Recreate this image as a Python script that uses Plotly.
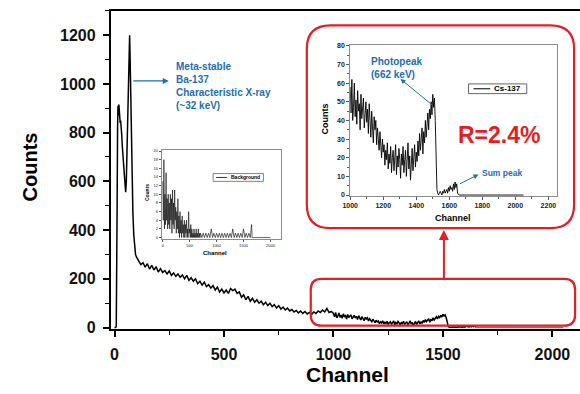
import plotly.graph_objects as go

W, H = 580, 394

# ---------------- data ----------------
# Cs-137 spectrum: peak region (channels listed explicitly)
peak_channels = [0, 5, 8, 10, 12, 14, 16, 18, 20, 22, 24, 26, 28, 30, 33, 36, 40, 44, 48, 51,
                 54, 57, 60, 63, 66, 69, 71, 74, 77, 80, 84, 88, 92, 96, 100]
peak_counts = [0, 0, 5, 150, 500, 820, 910, 870, 915, 860, 880, 840, 850, 800, 790, 740, 700, 640, 590, 555,
               600, 720, 880, 1030, 1150, 1200, 1120, 950, 760, 600, 470, 380, 330, 300, 290]

# Compton continuum, channels 110..990 step 10
mid_channels = list(range(110, 1000, 10))
mid_counts = [272, 258, 266, 248, 262, 240, 255, 236, 250, 228,
              242, 226, 234, 220, 232, 214, 224, 210, 220, 206,
              216, 200, 214, 194, 204, 190, 200, 180, 190, 174,
              186, 168, 176, 162, 172, 154, 166, 146, 158, 142,
              154, 140, 160, 152, 158, 140, 146, 124, 134, 114,
              128, 108, 120, 104, 114, 100, 108, 94, 104, 90,
              100, 86, 94, 80, 90, 76, 84, 72, 80, 68,
              74, 64, 70, 60, 68, 58, 66, 56, 62, 54,
              64, 58, 68, 62, 72, 64, 78, 62, 66]

# Photopeak region, channels 1000..1650 step 5
hi_channels = list(range(1000, 1655, 5))
hi_counts = [58, 44, 62, 40, 47, 60, 42, 51, 38, 56, 45, 49, 35, 54, 41, 47, 52, 36, 44, 50, 39,
             46, 33, 49, 40, 31, 45, 37, 28, 42, 35, 40, 27, 36, 31, 24, 34, 28, 20, 30, 23,
             27, 16, 24, 19, 28, 14, 22, 17, 26, 12, 20, 24, 13, 18, 27, 11, 21, 15, 25, 19,
             9, 22, 16, 26, 12, 19, 24, 10, 18, 28, 14, 21, 8, 17, 25, 13, 20, 27, 15, 23,
             18, 29, 21, 33, 24, 30, 36, 22, 34, 28, 40, 31, 38, 44, 35, 46, 41, 50, 43, 54,
             47, 52, 40, 14, 3, 1, 0, 1, 2, 1, 0, 2, 1, 3, 1, 2, 3, 1, 4, 2,
             5, 3, 4, 2, 6, 3, 7, 4, 6, 1]

# Flat tail after the sum peak
tail_channels = [1650, 1660, 1700, 1800, 1900, 2000, 2050]
tail_counts = [1, 0, 0, 0, 0, 0, 0]

cs_channels = peak_channels + mid_channels + hi_channels
cs_counts = peak_counts + mid_counts + hi_counts

# Background spectrum
bg_channels = list(range(0, 710, 10)) + list(range(725, 1675, 25)) + [1660, 2000]
bg_counts = [13, 4, 18, 2, 10, 3, 15, 4, 9, 2, 10, 3, 8, 2, 10, 4, 9, 1, 11, 3,
             8, 2, 11, 4, 7, 1, 6, 2, 9, 1, 5, 0, 6, 1, 4, 0, 5, 1, 3, 0,
             4, 0, 3, 1, 4, 0, 2, 0, 6, 1, 2, 0, 3, 0, 2, 0, 1, 0, 2, 0,
             1, 0, 2, 0, 1, 0, 2, 0, 1, 0, 1,
             0, 1, 0, 1, 0, 1, 0, 2, 0, 1, 0, 1, 0, 1, 0, 1, 0, 1, 0, 1,
             0, 1, 0, 2, 0, 1, 0, 1, 0, 1, 0, 2, 0, 1, 0, 1, 0, 3,
             0, 0]

main_xticks = [0, 500, 1000, 1500, 2000]
main_yticks = [0, 200, 400, 600, 800, 1000, 1200]
cs_xticks = [1000, 1200, 1400, 1600, 1800, 2000, 2200]
cs_yticks = [0, 10, 20, 30, 40, 50, 60, 70, 80]
bg_xticks = [0, 500, 1000, 1500, 2000]
bg_yticks = [0, 2, 4, 6, 8, 10, 12, 14, 16, 18, 20]

# ---------------- helpers ----------------
def px(x):
    return x / W

def py(y):
    return 1 - y / H

def rrect(x0, y0, x1, y1, r):
    def P(x, y):
        return f"{px(x):.5f},{py(y):.5f}"
    d = (f"M{P(x0 + r, y0)} L{P(x1 - r, y0)} Q{P(x1, y0)} {P(x1, y0 + r)} "
         f"L{P(x1, y1 - r)} Q{P(x1, y1)} {P(x1 - r, y1)} "
         f"L{P(x0 + r, y1)} Q{P(x0, y1)} {P(x0, y1 - r)} "
         f"L{P(x0, y0 + r)} Q{P(x0, y0)} {P(x0 + r, y0)} Z")
    return d

FONT = "Liberation Sans, Arial, sans-serif"
BLUE = "#1f6db2"
RED = "#e31e24"

fig = go.Figure()

# main spectrum
fig.add_trace(go.Scatter(x=cs_channels, y=cs_counts, mode="lines",
                         line=dict(color="black", width=1.5), xaxis="x", yaxis="y",
                         showlegend=False))
fig.add_trace(go.Scatter(x=tail_channels, y=tail_counts, mode="lines",
                         line=dict(color="#777777", width=1.5), xaxis="x", yaxis="y",
                         showlegend=False))
# Cs-137 inset
fig.add_trace(go.Scatter(x=hi_channels + tail_channels, y=hi_counts + tail_counts, mode="lines",
                         line=dict(color="black", width=0.9), xaxis="x2", yaxis="y2",
                         showlegend=False))
# background inset
fig.add_trace(go.Scatter(x=bg_channels, y=bg_counts, mode="lines",
                         line=dict(color="black", width=0.6), xaxis="x3", yaxis="y3",
                         showlegend=False))

main_axis = dict(showline=True, linecolor="black", linewidth=1.5, ticks="outside",
                 ticklen=6, tickwidth=1.5, tickcolor="black", showgrid=False, zeroline=False,
                 tickfont=dict(family=FONT, size=16, color="#111111", weight="bold"))

fig.update_layout(
    width=W, height=H, autosize=False,
    margin=dict(l=0, r=0, t=0, b=0),
    paper_bgcolor="white", plot_bgcolor="white",
    xaxis=dict(domain=[px(104), 1.0], range=[-18, 2126], tickvals=main_xticks,
               mirror=True, anchor="y",
               minor=dict(ticks="outside", ticklen=4, tickwidth=1.2, tickcolor="black", dtick=250, tick0=0),
               ticklabelstandoff=4, **main_axis),
    yaxis=dict(domain=[py(335), py(8)], range=[-8, 1300], tickvals=main_yticks, anchor="x",
               minor=dict(ticks="outside", ticklen=4, tickwidth=1.2, tickcolor="black", dtick=100, tick0=0),
               ticklabelstandoff=4, **main_axis),
    xaxis2=dict(domain=[px(347), px(557)], range=[1000, 2254], tickvals=cs_xticks, anchor="y2",
                showline=True, mirror=True, linecolor="#8c8c8c", linewidth=1, ticks="outside",
                ticklen=3, tickcolor="#555555", showgrid=False, zeroline=False,
                minor=dict(ticks="outside", ticklen=2, tickcolor="#555555", dtick=100, tick0=1000),
                tickfont=dict(family=FONT, size=7, color="#222222", weight="bold")),
    yaxis2=dict(domain=[py(198), py(43)], range=[-0.5, 80.5], tickvals=cs_yticks, anchor="x2",
                showline=True, mirror=True, linecolor="#8c8c8c", linewidth=1, ticks="outside",
                ticklen=3, tickcolor="#555555", showgrid=False, zeroline=False,
                minor=dict(ticks="outside", ticklen=2, tickcolor="#555555", dtick=5, tick0=0),
                tickfont=dict(family=FONT, size=7, color="#222222", weight="bold")),
    xaxis3=dict(domain=[px(156), px(277)], range=[-18, 2200], tickvals=bg_xticks, anchor="y3",
                showline=True, mirror=True, linecolor="#8c8c8c", linewidth=1, ticks="outside",
                ticklen=2, tickcolor="#555555", showgrid=False, zeroline=False,
                tickfont=dict(family=FONT, size=4, color="#222222")),
    yaxis3=dict(domain=[py(242), py(151)], range=[-0.3, 20.2], tickvals=bg_yticks, anchor="x3",
                showline=True, mirror=True, linecolor="#8c8c8c", linewidth=1, ticks="outside",
                ticklen=2, tickcolor="#555555", showgrid=False, zeroline=False,
                tickfont=dict(family=FONT, size=4, color="#222222")),
)

shapes = []
# red rounded boxes
shapes.append(dict(type="path", xref="paper", yref="paper", path=rrect(303, 23, 574, 231, 24),
                   line=dict(color=RED, width=2.2)))
shapes.append(dict(type="path", xref="paper", yref="paper", path=rrect(307, 283, 575, 331, 11),
                   line=dict(color=RED, width=2.2)))
# Cs-137 legend box
shapes.append(dict(type="rect", xref="paper", yref="paper", x0=px(467), x1=px(526), y0=py(93), y1=py(83),
                   line=dict(color="#666666", width=1), fillcolor="white"))
shapes.append(dict(type="line", xref="paper", yref="paper", x0=px(472), x1=px(489), y0=py(88), y1=py(88),
                   line=dict(color="black", width=1)))
# Background legend box
shapes.append(dict(type="rect", xref="paper", yref="paper", x0=px(208), x1=px(259), y0=py(183), y1=py(175),
                   line=dict(color="#666666", width=0.8), fillcolor="white"))
shapes.append(dict(type="line", xref="paper", yref="paper", x0=px(211), x1=px(222), y0=py(179), y1=py(179),
                   line=dict(color="black", width=0.8)))
fig.update_layout(shapes=shapes)

ann = []
def text(x, y, t, size, color="black", bold=True, angle=0, xanchor="center", yanchor="middle", align="center"):
    ann.append(dict(x=px(x), y=py(y), xref="paper", yref="paper", text=t, showarrow=False,
                    textangle=angle, xanchor=xanchor, yanchor=yanchor, align=align,
                    font=dict(family=FONT, size=size, color=color, weight="bold" if bold else "normal")))

def arrow(hx, hy, tx, ty, color, width, size=1.0, head=2):
    ann.append(dict(x=px(hx), y=py(hy), xref="paper", yref="paper", text="", showarrow=True,
                    ax=tx - hx, ay=ty - hy, axref="pixel", ayref="pixel",
                    arrowhead=head, arrowsize=size, arrowwidth=width, arrowcolor=color))

# main axis titles
text(22, 168, "Counts", 20, angle=-90)
text(344, 381, "Channel", 21)
# main annotation
text(168, 57, "Meta-stable<br>Ba-137<br>Characteristic X-ray<br>(~32 keV)", 10, color=BLUE,
     xanchor="left", yanchor="top", align="left")
arrow(163, 80, 126, 80, BLUE, 1.2, 1.0)
# Cs inset texts
text(321, 119, "Counts", 9, angle=-90)
text(451, 221, "Channel", 9)
text(366, 52, "Photopeak<br>(662 keV)", 10, color=BLUE, xanchor="left", yanchor="top", align="left")
arrow(398, 78, 431, 105, BLUE, 1, 1.0)
text(479, 174, "Sum peak", 8.5, color=BLUE, xanchor="left")
arrow(477, 176, 457, 186, BLUE, 1, 1.0)
text(498, 135, "R=2.4%", 23, color=RED)
text(491, 88, "Cs-137", 8, xanchor="left")
# background inset texts
text(141, 195, "Counts", 5, angle=-90)
text(210, 256, "Channel", 6)
text(224, 179, "Background", 5, xanchor="left")
# red arrow
arrow(442, 233, 442, 283, RED, 2, 1.0)

fig.update_layout(annotations=ann)

fig.write_html("out.html", config={"displayModeBar": False},
               post_script="document.body.style.margin='0px';")
